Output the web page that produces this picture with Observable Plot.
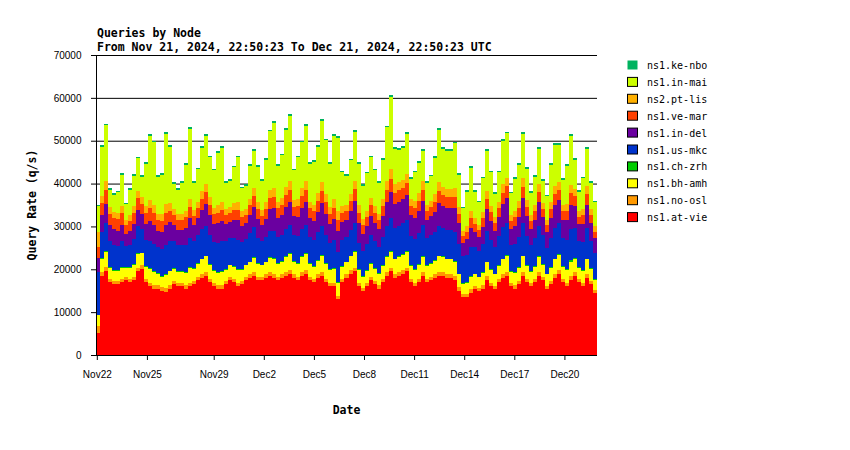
<!DOCTYPE html>
<html>
<head>
<meta charset="utf-8">
<script src="https://cdn.jsdelivr.net/npm/d3@7"></script>
<script src="https://cdn.jsdelivr.net/npm/@observablehq/plot@0.6"></script>
<style>
  body { margin: 0; background: #fff; }
  #wrap { position: relative; width: 850px; height: 450px; overflow: hidden; }
  #chart, #overlay { position: absolute; left: 0; top: 0; }
</style>
</head>
<body>
<div id="wrap"><div id="chart"></div></div>
<script>
// ---- Data (values in thousands of queries per second, one value per ~5.76h bin) ----
const titleText = "Queries by Node";
const subtitleText = "From Nov 21, 2024, 22:50:23 To Dec 21, 2024, 22:50:23 UTC";
const startTime = Date.UTC(2024, 10, 21, 22, 50, 23);
const endTime = Date.UTC(2024, 11, 21, 22, 50, 23);

// legend order (top of stack first)
const nodes = ["ns1.ke-nbo","ns1.in-mai","ns2.pt-lis","ns1.ve-mar","ns1.in-del","ns1.us-mkc","ns1.ch-zrh","ns1.bh-amh","ns1.no-osl","ns1.at-vie"];
const nodeColors = ["#00b35f","#ccff00","#ffb000","#ff4000","#6a00a0","#0033cc","#00cc00","#ffff00","#ff9900","#ff0000"];

const atVie = [5.2,18.5,19.5,17,16.5,16.5,17,17.5,17,17.5,19.5,20,17,16,15.5,15.5,15,14.8,15.5,16.5,
16,16,15.5,16,16.5,17.5,18,18.5,17,16,15.5,15.5,16.5,17.5,17,16,16.5,17.5,18,18.5,
17.5,17.5,18,18.5,18,17.5,18,18.5,19,18,17.5,18.5,19,17.5,17,18,18.5,17,16,16,
13,17,18,19,19.5,16,15,16,17.5,16.5,15.5,17,18.5,19.5,18,18.5,19,19.5,17,16,
17,18.5,17,17.5,18,18.5,18.5,18,18,17.5,15,13.5,13.5,14.5,15.5,15,15.5,17.5,16,15.5,
17,18,18.5,16,15.5,16.5,18.5,17,16,17,18.5,17.5,15.5,16.5,18,19,17,16,17.5,18.5,
17,16,18,16.5,14.5];
const noOsl = [1.6,.9,1.0,.8,.8,.8,.8,.7,.8,.8,.9,.9,.8,.8,.8,.8,.8,.8,.8,.8,
.8,.8,.8,.9,.8,.8,.9,.9,.8,.8,.8,.8,.8,.8,.8,.8,.8,.8,.8,.9,
.8,.8,.8,.9,.9,.8,.8,.9,.9,.8,.8,.9,.9,.8,.8,.8,.9,.8,.8,.8,
.8,.8,.8,.8,.9,.8,.7,.8,.8,.8,.8,.8,.9,.9,.9,.9,.9,.9,.8,.8,
.8,.9,.8,.8,.8,.9,.9,.9,.9,.9,.8,.7,.7,.8,.7,.7,.8,.9,.8,.7,
.8,.9,.9,.7,.8,.8,.9,.8,.7,.8,.9,.8,.7,.8,.9,.9,.8,.8,.9,.8,
.7,.8,.9,.8,.7];
const bhAmh = [2.5,3.0,3.5,2.5,2.4,2.3,2.6,2.2,2.5,2.8,3.2,2.8,2.8,3.2,3.0,2.6,2.5,3.0,3.2,2.8,
2.6,2.6,2.8,3.4,2.8,3.0,3.4,3.6,3.2,2.8,2.8,3.0,2.6,2.6,2.8,3.0,2.6,2.6,2.8,3.2,
3.0,2.6,2.8,3.2,3.4,3.0,3.0,3.4,3.6,3.0,3.0,3.4,3.6,3.0,2.8,3.2,3.6,3.4,3.0,3.2,
3.0,2.8,2.8,3.2,3.6,3.0,2.6,2.8,3.0,2.8,2.6,3.0,3.4,3.6,3.4,3.4,3.4,3.6,3.0,3.0,
3.2,3.4,3.0,3.0,3.2,3.6,3.4,3.4,3.4,3.4,3.0,2.4,2.6,3.0,2.6,2.4,2.8,3.2,3.0,2.6,
3.0,3.4,3.6,2.6,2.8,3.0,3.6,3.0,2.6,2.8,3.4,2.8,2.6,3.0,3.4,3.4,2.8,3.0,3.4,3.2,
2.6,2.8,3.4,2.8,2.4];
const chZrh = [0,.2,.2,.2,.2,.2,.2,.2,.2,.2,.3,.2,.2,.2,.2,.2,.2,.2,.2,.2,
.2,.2,.2,.3,.2,.2,.2,.2,.2,.2,.2,.2,.2,.2,.2,.2,.2,.2,.2,.2,
.2,.2,.2,.2,.3,.2,.2,.2,.3,.2,.2,.2,.2,.2,.2,.2,.3,.2,.2,.2,
.2,.2,.2,.2,.2,.2,.2,.2,.2,.2,.2,.2,.2,.3,.2,.2,.2,.2,.2,.2,
.2,.2,.2,.2,.2,.2,.2,.2,.2,.2,.2,.2,.2,.2,.2,.2,.2,.2,.2,.2,
.2,.2,.3,.2,.2,.2,.2,.2,.2,.2,.2,.2,.2,.2,.2,.2,.2,.2,.3,.2,
.2,.2,.2,.2,.2];
const usMkc = [10.1,6.0,6.5,6.0,5.8,5.6,6.0,4.8,5.2,5.8,6.2,5.6,6.0,6.5,6.4,6.0,6.2,6.8,6.8,6.2,
6.0,6.0,6.4,6.8,6.2,6.4,6.8,7.0,6.8,6.6,6.8,7.0,6.4,6.2,6.6,6.8,6.2,6.0,6.6,7.0,
5.8,5.4,5.8,6.2,6.4,6.0,6.0,6.4,6.6,6.0,6.2,6.4,6.6,6.0,6.0,6.4,6.8,6.6,6.2,6.6,
7.0,6.0,5.8,6.0,6.6,6.2,5.8,6.0,6.4,6.2,6.0,6.6,7.2,7.6,7.2,7.2,7.2,7.4,6.8,7.0,
7.2,7.4,6.4,6.6,6.4,6.8,6.6,6.6,6.6,6.8,7.0,6.2,6.4,6.8,6.2,6.0,6.6,7.2,6.8,6.2,
6.8,7.4,7.6,6.2,6.6,7.0,7.6,6.8,6.2,6.6,7.2,6.6,6.0,6.8,7.2,7.2,6.6,6.8,7.4,7.0,
6.2,6.6,7.2,6.4,6.0];
const inDel = [3.2,4.0,4.5,3.8,3.6,3.5,3.8,2.8,3.2,3.5,3.8,3.4,3.8,4.5,4.4,3.8,4.0,4.8,4.6,3.8,
3.6,3.6,4.0,4.6,3.8,4.0,4.6,5.0,4.6,4.2,4.6,4.8,4.0,3.8,4.2,4.6,3.8,3.6,4.2,4.8,
4.4,3.8,4.2,5.0,5.2,4.4,4.6,5.2,5.4,4.4,4.6,5.0,5.4,4.4,4.4,4.8,5.4,5.0,4.4,5.0,
5.0,4.2,4.0,4.4,5.2,4.6,4.0,4.2,4.6,4.4,4.2,4.8,5.6,6.2,5.6,5.6,5.6,5.8,4.8,5.0,
5.2,5.6,4.2,4.4,4.8,5.4,5.2,5.2,5.2,5.4,4.8,3.2,3.6,4.4,3.6,3.2,4.0,5.0,4.4,3.8,
4.4,5.4,5.8,3.8,4.2,4.6,5.8,4.6,3.8,4.2,5.4,4.2,3.6,4.6,5.4,5.4,4.2,4.6,5.6,5.0,
3.8,4.2,5.4,4.0,3.4];
const veMar = [2.7,2.8,3.2,2.6,2.6,2.8,2.8,2.2,2.4,2.6,2.7,2.4,2.6,3.0,2.8,2.5,2.6,2.8,2.6,2.3,
2.2,2.2,2.4,2.6,2.2,2.3,2.6,2.8,2.5,2.3,2.5,2.6,2.2,2.1,2.3,2.5,2.1,2.0,2.3,2.5,
2.3,2.1,2.3,2.6,2.7,2.3,2.4,2.7,2.8,2.2,2.4,2.6,2.8,2.3,2.3,2.5,2.8,2.6,2.3,2.6,
2.6,2.2,2.1,2.3,2.7,2.4,2.1,2.2,2.4,2.3,2.1,2.4,2.8,3.0,2.6,2.6,2.6,2.8,2.2,2.3,
2.4,2.6,2.1,2.1,2.4,2.8,2.6,2.6,2.6,2.7,2.2,1.6,1.8,2.2,1.8,1.6,2.0,2.4,2.1,1.8,
2.1,2.6,2.7,1.8,2.0,2.2,2.7,2.2,1.8,2.0,2.5,2.0,1.7,2.2,2.5,2.5,2.0,2.2,2.6,2.3,
1.8,2.0,2.5,1.9,1.6];
const ptLis = [3.5,1.8,2.2,1.6,1.5,1.4,1.6,1.2,1.4,1.5,1.7,1.5,1.6,2.0,1.8,1.5,1.6,2.0,1.8,1.5,
1.4,1.4,1.6,1.9,1.4,1.5,1.8,2.0,1.7,1.5,1.7,1.8,1.4,1.4,1.6,1.7,1.3,1.3,1.6,1.8,
1.6,1.4,1.6,1.9,2.0,1.6,1.7,2.0,2.1,1.5,1.7,1.9,2.0,1.6,1.6,1.8,2.1,1.9,1.6,1.9,
1.9,1.5,1.4,1.6,2.0,1.7,1.4,1.5,1.7,1.6,1.4,1.7,2.1,2.3,1.9,1.9,1.9,2.0,1.5,1.6,
1.7,1.9,1.4,1.4,1.7,2.1,1.9,1.9,1.9,2.0,1.5,1.2,1.3,1.6,1.3,1.2,1.5,1.8,1.5,1.3,
1.5,1.9,2.0,1.3,1.5,1.6,2.0,1.6,1.3,1.5,1.8,1.4,1.2,1.6,1.8,1.8,1.4,1.6,1.9,1.7,
1.3,1.5,1.8,1.4,1.2];
const inMai = [6.0,11.4,13.0,4.1,4.0,4.9,7.3,3.6,5.9,7.1,7.6,4.8,9.8,14.9,14.7,8.7,9.2,16.4,13.1,5.9,
5.8,7.3,10.6,16.2,6.2,7.6,10.0,11.2,9.3,8.7,12.2,12.7,6.0,6.0,8.3,10.5,5.4,5.4,7.7,8.7,
8.3,6.8,9.9,13.7,15.3,8.3,9.9,13.3,15.1,7.0,9.7,10.7,12.9,8.8,10.0,10.9,14.3,12.6,10.1,14.8,
17.1,7.9,6.7,7.9,11.4,9.7,7.6,8.7,9.5,8.3,7.3,9.1,12.4,16.7,8.3,7.5,7.6,9.4,4.8,6.7,
7.2,7.1,5.0,5.7,8.5,12.3,8.8,8.8,8.8,10.5,7.6,5.2,8.0,10.1,6.1,5.3,7.8,9.4,7.8,5.5,
6.8,10.2,10.3,5.1,7.5,8.5,10.3,7.2,5.3,6.5,8.2,5.1,5.5,8.7,9.7,8.6,5.8,8.9,11.6,6.9,
4.5,7.1,8.7,6.1,5.6];
const keNbo = [.3,.4,.4,.4,.3,.3,.4,.3,.4,.4,.4,.4,.4,.4,.4,.4,.4,.4,.4,.4,
.4,.4,.4,.4,.4,.4,.4,.4,.4,.4,.4,.4,.4,.4,.4,.4,.4,.4,.4,.4,
.4,.4,.4,.4,.4,.4,.4,.4,.4,.4,.4,.4,.4,.4,.4,.4,.4,.4,.4,.4,
.4,.4,.4,.4,.4,.4,.4,.4,.4,.4,.4,.4,.4,.5,.4,.4,.4,.4,.4,.4,
.4,.4,.4,.4,.4,.4,.4,.4,.4,.4,.4,.3,.4,.4,.4,.3,.4,.4,.4,.4,
.4,.4,.4,.4,.4,.4,.4,.4,.4,.4,.4,.4,.3,.4,.4,.4,.4,.4,.4,.4,
.4,.4,.4,.4,.3];

const yTicks = [0,10000,20000,30000,40000,50000,60000,70000];
const xTickLabels = ["2024-11-22","2024-11-25","2024-11-29","2024-12-02","2024-12-05","2024-12-08","2024-12-11","2024-12-14","2024-12-17","2024-12-20"];

// ---- Build table ----
const seriesByNode = {
  "ns1.ke-nbo": keNbo, "ns1.in-mai": inMai, "ns2.pt-lis": ptLis, "ns1.ve-mar": veMar,
  "ns1.in-del": inDel, "ns1.us-mkc": usMkc, "ns1.ch-zrh": chZrh, "ns1.bh-amh": bhAmh,
  "ns1.no-osl": noOsl, "ns1.at-vie": atVie
};
const nBins = atVie.length;
const step = (endTime - startTime) / nBins;
const stackOrder = nodes.slice().reverse(); // bottom first
const rows = [];
for (const node of stackOrder) {
  const arr = seriesByNode[node];
  arr.forEach((v, i) => {
    rows.push({node, start: new Date(startTime + i * step), end: new Date(startTime + (i + 1) * step), value: v * 1000});
  });
}
const xTicks = xTickLabels.map(s => new Date(s + "T00:00:00Z"));

const chart = Plot.plot({
  width: 850,
  height: 450,
  marginLeft: 96,
  marginRight: 253,
  marginTop: 55,
  marginBottom: 95,
  style: {background: "white", fontFamily: "'Liberation Sans', Arial, sans-serif", fontSize: "10px", color: "black", overflow: "visible"},
  x: {type: "utc", domain: [new Date(startTime), new Date(endTime)]},
  y: {domain: [0, 70000]},
  color: {domain: nodes, range: nodeColors},
  marks: [
    Plot.ruleY(yTicks, {stroke: "black", strokeWidth: 1}),
    Plot.rectY(rows, {x1: "start", x2: "end", y: "value", fill: "node", order: stackOrder, shapeRendering: "crispEdges"}),
    Plot.ruleX([new Date(startTime)], {stroke: "black", strokeWidth: 1}),
    Plot.ruleY([0], {stroke: "black", strokeWidth: 1}),
    Plot.axisY({ticks: yTicks, tickFormat: d3.format("d"), tickSize: 5, tickPadding: 10, label: null, fontSize: 10, stroke: "black"}),
    Plot.axisX({ticks: xTicks, tickFormat: d3.utcFormat("%b%-d"), tickSize: 5, tickPadding: 10, label: null, fontSize: 10, stroke: "black"})
  ]
});
document.getElementById("chart").appendChild(chart);

// ---- Titles, axis titles, legend (overlay) ----
const svg = d3.select("#wrap").append("svg")
  .attr("id", "overlay").attr("width", 850).attr("height", 450)
  .style("pointer-events", "none");
const mono = "'DejaVu Sans Mono', monospace";
svg.append("text").attr("x", 97).attr("y", 37).text(titleText)
  .attr("font-family", mono).attr("font-weight", "bold").attr("font-size", 11.5);
svg.append("text").attr("x", 97).attr("y", 51).text(subtitleText)
  .attr("font-family", mono).attr("font-weight", "bold").attr("font-size", 11.5);
svg.append("text").attr("x", 346.5).attr("y", 414).attr("text-anchor", "middle").text("Date")
  .attr("font-family", mono).attr("font-weight", "bold").attr("font-size", 11.5);
svg.append("text").attr("transform", "translate(36,205) rotate(-90)").attr("text-anchor", "middle")
  .text("Query Rate (q/s)")
  .attr("font-family", mono).attr("font-weight", "bold").attr("font-size", 11.5);

const lg = svg.append("g");
nodes.forEach((n, i) => {
  const y = 60.5 + i * 16.9;
  lg.append("rect").attr("x", 627.5).attr("y", y).attr("width", 10).attr("height", 9)
    .attr("fill", nodeColors[i])
    .attr("stroke", i === 0 ? "none" : "black").attr("stroke-width", 1);
  lg.append("text").attr("x", 647).attr("y", y + 8.5).text(n)
    .attr("font-family", mono).attr("font-size", 10);
});
</script>
</body>
</html>
